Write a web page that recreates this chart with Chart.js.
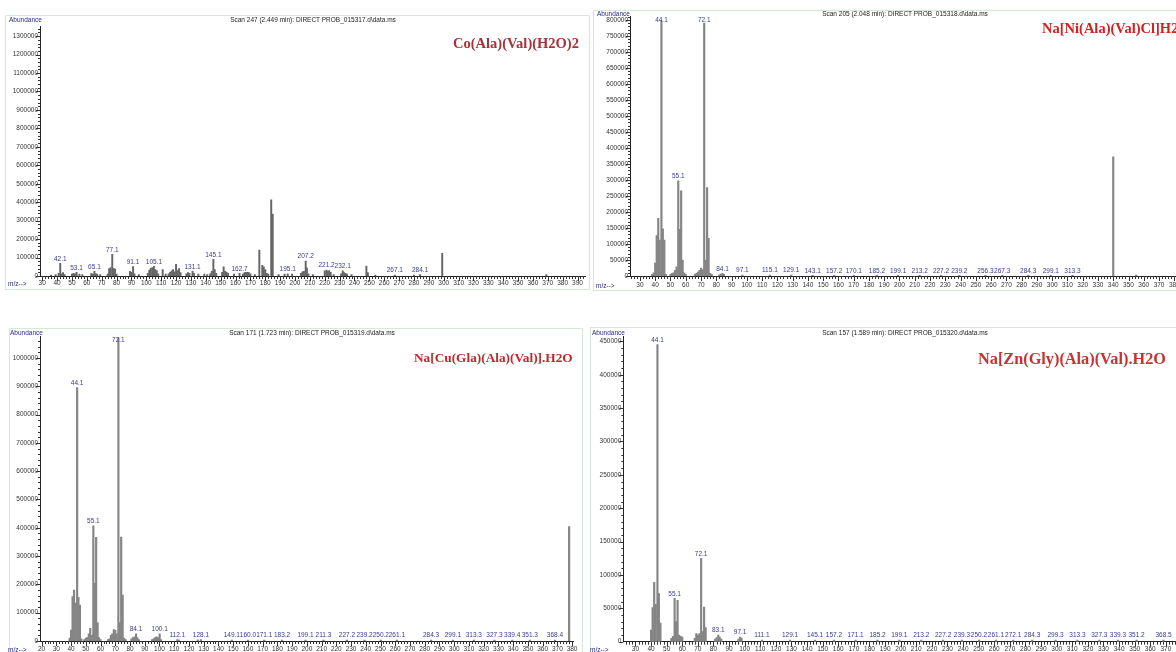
<!DOCTYPE html>
<html><head><meta charset="utf-8">
<script src="https://cdn.jsdelivr.net/npm/chart.js@4"></script>
<style>
html,body{margin:0;padding:0;width:1176px;height:652px;overflow:hidden;background:#fff;position:relative;}
canvas{position:absolute;}
.frame{position:absolute;border:1px solid #d3ead9;box-sizing:border-box;}
.t{position:absolute;font-family:"Liberation Sans",Arial,sans-serif;white-space:nowrap;line-height:1;}
.ab{font-size:6.5px;color:#2a2a80;}
.scan{font-size:6.5px;color:#222;transform:translateX(-50%);}
.name{font-family:"Liberation Serif","Times New Roman",serif;font-weight:bold;font-size:14.5px;}
</style></head><body>
<div class="frame" style="left:5px;top:15px;width:585px;height:275px"></div>
<div class="frame" style="left:593px;top:10px;width:700px;height:281px"></div>
<div class="frame" style="left:9px;top:328px;width:574px;height:400px"></div>
<div class="frame" style="left:590px;top:327px;width:700px;height:400px"></div>
<canvas id="c1"></canvas><canvas id="c2"></canvas><canvas id="c3"></canvas><canvas id="c4"></canvas>
<div class="t ab" style="left:9px;top:16.5px">Abundance</div>
<div class="t ab" style="left:597px;top:10.5px">Abundance</div>
<div class="t ab" style="left:10px;top:329.5px">Abundance</div>
<div class="t ab" style="left:592px;top:329.5px">Abundance</div>
<div class="t ab" style="left:8px;top:280.5px">m/z--&gt;</div>
<div class="t ab" style="left:596px;top:282.5px">m/z--&gt;</div>
<div class="t ab" style="left:8px;top:646.5px">m/z--&gt;</div>
<div class="t ab" style="left:590px;top:646.5px">m/z--&gt;</div>
<div class="t scan" style="left:313px;top:16.7px">Scan 247 (2.449 min): DIRECT PROB_015317.d\data.ms</div>
<div class="t scan" style="left:905px;top:10.7px">Scan 205 (2.048 min): DIRECT PROB_015318.d\data.ms</div>
<div class="t scan" style="left:312px;top:329.7px">Scan 171 (1.723 min): DIRECT PROB_015319.d\data.ms</div>
<div class="t scan" style="left:905px;top:329.7px">Scan 157 (1.589 min): DIRECT PROB_015320.d\data.ms</div>
<div class="t name" style="left:453px;top:35.5px;color:#a8323a">Co(Ala)(Val)(H2O)2</div>
<div class="t name" style="left:1042px;top:20.5px;color:#d42020">Na[Ni(Ala)(Val)Cl]H2O</div>
<div class="t name" style="left:414px;top:350.5px;color:#c0282c;font-size:13.3px">Na[Cu(Gla)(Ala)(Val)].H2O</div>
<div class="t name" style="left:978px;top:350.8px;color:#c83232;font-size:16.3px">Na[Zn(Gly)(Ala)(Val).H2O</div>
<script>
// ---------- Panel 1: Co(Ala)(Val)(H2O)2 ----------
const p1Mz = [36,39,41,42.1,43,44,45,50,51,52,53.1,55,57,
  63,64,65.1,66,67,69,74,75,76,77.1,78,79,80,
  89,90,91.1,92,95,101,102,103,104,105.1,106,107,108,
  111,113,115,116,117,118,119,120,121,122,123,127,128,129,131.1,132,135,
  139,141,143,144,145.1,146,147,151,152,153,154,155,159,162.7,
  165,166,167,168,169,170,173,176,178,179,180,181,182,184,185,
  189,193,195.1,198,204,205,206,207.2,208,209,212,
  220,221.2,222,223,224,226,231,232.1,233,234,235,238,
  248,249,254,267.1,280,284.1,299,369];
const p1Abund = [5000,8000,15000,69000,12000,18000,8000,10000,15000,12000,20000,10000,8000,
  15000,10000,25000,12000,10000,8000,10000,40000,45000,118000,42000,38000,10000,
  25000,20000,51000,12000,8000,15000,32000,42000,45000,52000,35000,30000,12000,
  35000,10000,12000,20000,28000,35000,22000,63000,30000,40000,18000,12000,18000,15000,25000,15000,10000,
  10000,8000,12000,25000,91000,35000,15000,20000,50000,25000,20000,15000,10000,15000,
  10000,18000,20000,20000,18000,12000,8000,141000,58000,50000,35000,15000,10000,413000,335000,
  8000,10000,12000,10000,15000,22000,25000,81000,43000,12000,8000,
  28000,32000,25000,30000,20000,8000,12000,28000,18000,15000,10000,8000,
  54000,18000,5000,5000,5000,8000,123000,8000];
const p1PeakLabels = ['42.1','53.1','65.1','77.1','91.1','105.1','131.1','145.1','162.7','195.1','207.2','221.2','232.1','267.1','284.1'];
const p1XTicks = [30,40,50,60,70,80,90,100,110,120,130,140,150,160,170,180,190,200,210,220,230,240,250,260,270,280,290,300,310,320,330,340,350,360,370,380,390];
const p1YTicks = [0,100000,200000,300000,400000,500000,600000,700000,800000,900000,1000000,1100000,1200000,1300000];

// ---------- Panel 2: Na[Ni(Ala)(Val)Cl]H2O ----------
const p2Mz = [38,39,40,41,42,43,
  44.1,45,46,47,
  50,51,52,53,54,
  55.1,56,57,58,59,60,
  66,67,68,69,70,71,
  72.1,73,74,75,76,77,
  82,83,84.1,85,
  97.1,115.1,129.1,143.1,157.2,170.1,185.2,
  199.1,213.2,227.2,239.2,256.3,267.3,284.3,299.1,313.3,
  340,355];
const p2Abund = [5000,10000,40000,126000,180000,112000,
  797000,147000,112000,5000,
  5000,8000,10000,18000,29000,
  297000,146000,266000,50000,10000,5000,
  5000,8000,12000,18000,25000,20000,
  790000,50000,276000,118000,8000,5000,
  4000,6000,8000,5000,
  3000,3000,3000,2000,2000,2000,2000,
  2000,2000,2000,2000,2000,2000,2000,2000,2000,
  372000,3000];
const p2PeakLabels = ['44.1','55.1','72.1','84.1','97.1','115.1','129.1','143.1','157.2','170.1','185.2','199.1','213.2','227.2','239.2','256.3','267.3','284.3','299.1','313.3'];
const p2XTicks = [30,40,50,60,70,80,90,100,110,120,130,140,150,160,170,180,190,200,210,220,230,240,250,260,270,280,290,300,310,320,330,340,350,360,370,380,390];
const p2YTicks = [0,50000,100000,150000,200000,250000,300000,350000,400000,450000,500000,550000,600000,650000,700000,750000,800000];

// ---------- Panel 3: Na[Cu(Gla)(Ala)(Val)].H2O ----------
const p3Mz = [39,40,41,42,43,44.1,45,46,47,
  49,50,51,52,53,54,55.1,56,57,58,59,60,
  65,66,67,68,69,70,71,72.1,73,74,75,76,77,
  81,82,83,84.1,85,86,
  95,96,97,98,99,100.1,101,
  112.1,113,126,128.1,
  149.1,160.0,171.1,183.2,199.1,211.3,227.2,239.2,250.2,261.1,284.3,299.1,313.3,327.3,339.4,351.3,368.4,
  378];
const p3Abund = [10000,39000,157000,180000,134000,895000,154000,127000,8000,
  5000,10000,12000,25000,45000,20000,407000,204000,366000,65000,12000,5000,
  5000,8000,20000,25000,40000,38000,25000,1071000,65000,367000,162000,10000,5000,
  8000,12000,15000,25000,12000,5000,
  5000,8000,12000,15000,12000,25000,5000,
  5000,3000,4000,5000,
  3000,3000,3000,3000,3000,3000,3000,3000,3000,3000,3000,3000,3000,3000,3000,3000,3000,
  404000];
const p3PeakLabels = ['44.1','55.1','72.1','84.1','100.1','112.1','128.1','149.1','160.0','171.1','183.2','199.1','211.3','227.2','239.2','250.2','261.1','284.3','299.1','313.3','327.3','339.4','351.3','368.4'];
const p3XTicks = [20,30,40,50,60,70,80,90,100,110,120,130,140,150,160,170,180,190,200,210,220,230,240,250,260,270,280,290,300,310,320,330,340,350,360,370,380];
const p3YTicks = [0,100000,200000,300000,400000,500000,600000,700000,800000,900000,1000000];

// ---------- Panel 4: Na[Zn(Gly)(Ala)(Val).H2O ----------
const p4Mz = [40,41,42,43,44.1,45,46,
  53,54,55.1,56,57,58,59,60,
  68,69,70,71,72.1,73,74,75,
  81,82,83.1,84,85,
  96,97.1,98,
  111.1,129.1,145.1,157.2,171.1,185.2,199.1,213.2,227.2,239.3,250.2,261.1,272.1,284.3,299.3,313.3,327.3,339.3,351.2,368.5];
const p4Abund = [17500,51000,89000,56000,445000,72000,28000,
  5000,8000,65000,30000,62000,10000,8000,7000,
  5000,12000,10000,12000,125000,15000,52000,21000,
  4000,6000,10000,7000,4000,
  4000,7000,5000,
  2500,2500,2500,2500,2500,2500,2500,2500,2500,2500,2500,2500,2500,2500,2500,2500,2500,2500,2500,2500];
const p4PeakLabels = ['44.1','55.1','72.1','83.1','97.1','111.1','129.1','145.1','157.2','171.1','185.2','199.1','213.2','227.2','239.3','250.2','261.1','272.1','284.3','299.3','313.3','327.3','339.3','351.2','368.5'];
const p4XTicks = [30,40,50,60,70,80,90,100,110,120,130,140,150,160,170,180,190,200,210,220,230,240,250,260,270,280,290,300,310,320,330,340,350,360,370,380,390];
const p4YTicks = [0,50000,100000,150000,200000,250000,300000,350000,400000,450000];

const FONT = '"Liberation Sans", Arial, sans-serif';

const spectrumPlugin = {
  id: 'spectrum',
  afterDatasetsDraw(chart, args, o) {
    const ctx = chart.ctx, xs = chart.scales.x, ys = chart.scales.y, a = chart.chartArea;
    const pts = chart.data.datasets[0].data;
    ctx.save();
    ctx.font = '6.5px ' + FONT;
    ctx.fillStyle = '#3a3a92';
    ctx.textAlign = 'center';
    ctx.textBaseline = 'middle';
    o.labels.forEach(t => {
      const m = parseFloat(t);
      let v = 0;
      pts.forEach(p => { if (Math.abs(p.x - m) < 0.05) v = p.y; });
      const x = xs.getPixelForValue(m);
      const y = Math.max(ys.getPixelForValue(v) - 4.5, a.top + 3.5);
      ctx.fillText(t, x, y);
    });
    ctx.restore();
  },
  afterDraw(chart, args, o) {
    const ctx = chart.ctx, xs = chart.scales.x, ys = chart.scales.y, a = chart.chartArea;
    ctx.save();
    ctx.strokeStyle = '#333';
    ctx.lineWidth = 1;
    ctx.beginPath();
    const x0 = Math.ceil(xs.min / o.xMinor) * o.xMinor;
    for (let v = x0; v <= xs.max; v += o.xMinor) {
      const px = Math.round(xs.getPixelForValue(v)) + 0.5;
      const len = (v % 10 === 0) ? 5 : 3;
      ctx.moveTo(px, a.bottom); ctx.lineTo(px, a.bottom + len);
    }
    for (let v = 0; v <= ys.max; v += o.yMinor) {
      const py = Math.round(ys.getPixelForValue(v)) + 0.5;
      const len = (v % o.yMajor === 0) ? 4 : 2;
      ctx.moveTo(a.left, py); ctx.lineTo(a.left - len, py);
    }
    ctx.stroke();
    ctx.restore();
  }
};

function makeChart(id, c) {
  const b = c.box, ar = c.area;
  const cv = document.getElementById(id);
  cv.width = b.w; cv.height = b.h;
  cv.style.left = b.l + 'px'; cv.style.top = b.t + 'px';
  return new Chart(cv, {
    type: 'bar',
    data: { datasets: [{
      data: c.mz.map((x, i) => ({ x: x, y: c.ab[i] })),
      backgroundColor: c.color, borderWidth: 0, barThickness: c.bw, grouped: false
    }]},
    options: {
      responsive: false, animation: false, devicePixelRatio: 1,
      layout: { padding: { left: 0, top: ar.t - b.t, right: b.l + b.w - ar.r, bottom: 0 } },
      plugins: {
        legend: { display: false }, tooltip: { enabled: false }, title: { display: false },
        spectrum: { labels: c.labels, xMinor: 2, yMinor: c.yMinor, yMajor: c.yMajor }
      },
      scales: {
        x: {
          type: 'linear', min: c.xmin, max: c.xmax, offset: false,
          grid: { display: false, drawTicks: false },
          border: { display: true, color: '#222', width: 1 },
          ticks: { autoSkip: false, maxRotation: 0, padding: c.xpad, color: '#333',
            font: { size: 6.5, family: FONT }, callback: v => String(v) },
          afterBuildTicks: s => { s.ticks = c.xTicks.map(v => ({ value: v })); },
          afterFit: s => { s.height = b.t + b.h - ar.b; }
        },
        y: {
          type: 'linear', min: 0, max: c.ymax,
          grid: { display: false, drawTicks: false },
          border: { display: true, color: '#222', width: 1 },
          ticks: { padding: 2, color: '#333', font: { size: 6.5, family: FONT }, callback: v => String(v) },
          afterBuildTicks: s => { s.ticks = c.yTicks.map(v => ({ value: v })); },
          afterFit: s => { s.width = ar.l - b.l; }
        }
      }
    },
    plugins: [spectrumPlugin]
  });
}

makeChart('c1', { box: {l: 0, t: 12, w: 592, h: 290}, area: {l: 40, r: 585.7, t: 26.9, b: 276},
  mz: p1Mz, ab: p1Abund, labels: p1PeakLabels, xTicks: p1XTicks, yTicks: p1YTicks,
  xmin: 28.5, xmax: 395.5, ymax: 1350000, yMinor: 20000, yMajor: 100000, xpad: 3, color: '#666666', bw: 1.3 });
makeChart('c2', { box: {l: 592, t: 8, w: 640, h: 292}, area: {l: 630, r: 1198, t: 16.7, b: 276},
  mz: p2Mz, ab: p2Abund, labels: p2PeakLabels, xTicks: p2XTicks, yTicks: p2YTicks,
  xmin: 23.5, xmax: 395.5, ymax: 810000, yMinor: 10000, yMajor: 50000, xpad: 5, color: '#858585', bw: 1.5 });
makeChart('c3', { box: {l: 0, t: 326, w: 582, h: 340}, area: {l: 40, r: 578.1, t: 336.7, b: 641},
  mz: p3Mz, ab: p3Abund, labels: p3PeakLabels, xTicks: p3XTicks, yTicks: p3YTicks,
  xmin: 18.9, xmax: 381, ymax: 1075000, yMinor: 20000, yMajor: 100000, xpad: 4.5, color: '#858585', bw: 1.5 });
makeChart('c4', { box: {l: 588, t: 326, w: 640, h: 340}, area: {l: 623.3, r: 1204.9, t: 336, b: 641.7},
  mz: p4Mz, ab: p4Abund, labels: p4PeakLabels, xTicks: p4XTicks, yTicks: p4YTicks,
  xmin: 22.2, xmax: 395, ymax: 458000, yMinor: 10000, yMajor: 50000, xpad: 4, color: '#858585', bw: 1.5 });
</script>
</body></html>
